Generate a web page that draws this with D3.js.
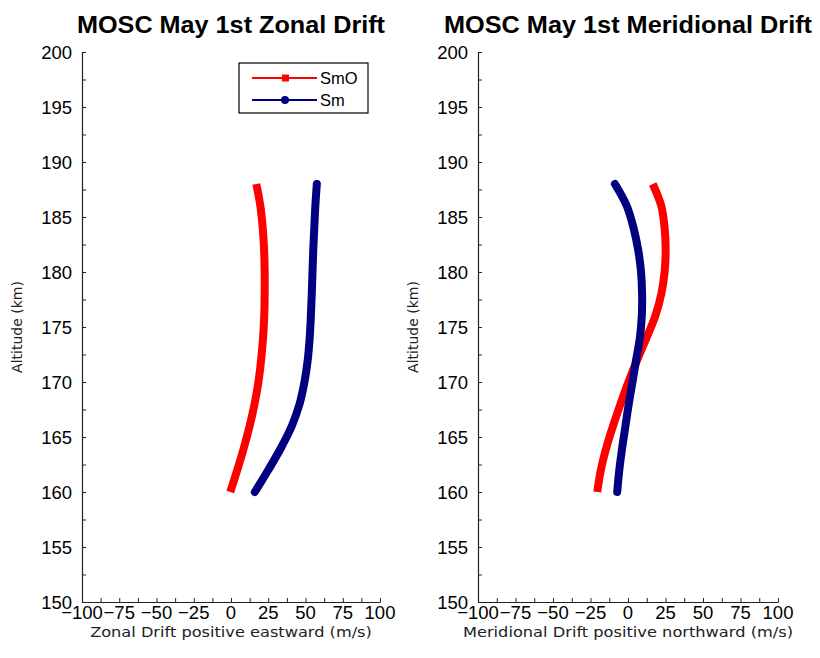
<!DOCTYPE html>
<html>
<head>
<meta charset="utf-8">
<script src="https://cdn.jsdelivr.net/npm/d3@7"></script>
<style>
  html, body { margin: 0; padding: 0; background: #fff; }
  svg { display: block; }
</style>
</head>
<body>
<svg id="chart" width="820" height="658"></svg>
<script>
// Altitude levels (km) shared by all profiles
const altitudes = [160, 162, 164, 166, 168, 170, 172, 174, 176, 178, 180, 182, 184, 186, 188];

// Zonal drift (m/s, positive eastward)
const zonalSmO = [-0.5, 4.2, 8.6, 12.5, 15.8, 18.4, 20.2, 21.5, 22.3, 22.6, 22.6, 22.2, 21.3, 19.7, 17.0];
const zonalSm  = [16.0, 25.0, 33.5, 40.8, 46.0, 49.3, 51.5, 52.8, 53.6, 54.2, 54.7, 55.2, 55.9, 56.6, 57.6];

// Meridional drift (m/s, positive northward)
const meridSmO = [-20.5, -18.1, -14.5, -10.0, -5.0, 0.3, 6.1, 12.3, 18.2, 22.2, 24.4, 25.1, 24.4, 22.2, 16.5];
const meridSm  = [-7.2, -5.8, -3.9, -1.7, 0.5, 3.0, 5.4, 7.9, 9.2, 9.4, 8.7, 6.8, 3.7, -0.8, -8.7];

// Axis ticks
const xTickLabels = [-100, -75, -50, -25, 0, 25, 50, 75, 100];
const yTickLabels = [150, 155, 160, 165, 170, 175, 180, 185, 190, 195, 200];

const seriesNames = ["SmO", "Sm"];
const seriesColors = ["#ff0000", "#000080"];

const panels = [
  { title: "MOSC May 1st Zonal Drift", xlabel: "Zonal Drift positive eastward (m/s)",
    series: [zonalSmO, zonalSm], left: 82, right: 380, titleWidth: 308, legend: true },
  { title: "MOSC May 1st Meridional Drift", xlabel: "Meridional Drift positive northward (m/s)",
    series: [meridSmO, meridSm], left: 478, right: 778, titleWidth: 368, legend: false }
];

const svg = d3.select("#chart");
const plotTop = 52, plotBottom = 602;
const tickFont = "'Liberation Sans', Arial, Helvetica, sans-serif";
const labelFont = "'DejaVu Sans', 'Noto Sans', sans-serif";

const y = d3.scaleLinear().domain([150, 200]).range([plotBottom, plotTop]);

panels.forEach(p => {
  const x = d3.scaleLinear().domain([-100, 100]).range([p.left, p.right]);
  const g = svg.append("g");
  const cx = (p.left + p.right) / 2;

  // Title
  g.append("text")
    .attr("x", cx).attr("y", 33)
    .attr("text-anchor", "middle")
    .attr("font-family", tickFont)
    .attr("font-weight", "bold")
    .attr("font-size", 23)
    .attr("textLength", p.titleWidth)
    .attr("lengthAdjust", "spacingAndGlyphs")
    .attr("fill", "#000")
    .text(p.title);

  // Bottom axis: labelled ticks every 25, minor ticks in between, drawn inward
  const xMinor = d3.range(-100, 100.01, 12.5);
  g.append("g")
    .attr("transform", `translate(0,${plotBottom})`)
    .call(d3.axisBottom(x).tickValues(xMinor).tickSizeInner(-4).tickSizeOuter(0).tickFormat(() => ""))
    .call(a => a.select(".domain").attr("stroke", "#222").attr("stroke-width", 1.2))
    .call(a => a.selectAll(".tick line").attr("stroke", "#222"));

  g.append("g")
    .selectAll("text")
    .data(xTickLabels)
    .join("text")
    .attr("x", d => x(d)).attr("y", 619)
    .attr("text-anchor", "middle")
    .attr("font-family", tickFont)
    .attr("font-size", 18.5)
    .attr("fill", "#000")
    .text(d => d < 0 ? "\u2212" + Math.abs(d) : d);

  // Left axis: labelled ticks every 5 km, minor ticks every 2.5 km
  const yMinor = d3.range(150, 200.01, 2.5);
  g.append("g")
    .attr("transform", `translate(${p.left},0)`)
    .call(d3.axisLeft(y).tickValues(yMinor).tickSizeInner(-4).tickSizeOuter(0).tickFormat(() => ""))
    .call(a => a.select(".domain").attr("stroke", "#222").attr("stroke-width", 1.2))
    .call(a => a.selectAll(".tick line").attr("stroke", "#222"));

  g.append("g")
    .selectAll("text")
    .data(yTickLabels)
    .join("text")
    .attr("x", p.left - 10).attr("y", d => y(d) + 6.5)
    .attr("text-anchor", "end")
    .attr("font-family", tickFont)
    .attr("font-size", 18.5)
    .attr("fill", "#000")
    .text(d => d);

  // Axis titles
  g.append("text")
    .attr("x", cx).attr("y", 637)
    .attr("text-anchor", "middle")
    .attr("font-family", labelFont)
    .attr("font-size", 14)
    .attr("textLength", p.xlabel.length * 8.05)
    .attr("lengthAdjust", "spacingAndGlyphs")
    .attr("fill", "#222")
    .text(p.xlabel);

  g.append("text")
    .attr("transform", `translate(${p.left - 60},${y(175)}) rotate(-90)`)
    .attr("text-anchor", "middle")
    .attr("font-family", labelFont)
    .attr("font-size", 14)
    .attr("fill", "#222")
    .text("Altitude (km)");

  // Drift profiles
  p.series.forEach((vals, i) => {
    const line = d3.line()
      .x((d, k) => x(d))
      .y((d, k) => y(altitudes[k]))
      .curve(d3.curveCatmullRom.alpha(0.5));
    g.append("path")
      .datum(vals)
      .attr("d", line)
      .attr("fill", "none")
      .attr("stroke", seriesColors[i])
      .attr("stroke-width", 8)
      .attr("stroke-linecap", i === 0 ? "butt" : "round")
      .attr("stroke-linejoin", "round");
  });

  // Legend
  if (p.legend) {
    const lg = g.append("g");
    lg.append("rect")
      .attr("x", 239).attr("y", 63).attr("width", 129).attr("height", 50)
      .attr("fill", "#fff").attr("stroke", "#000").attr("stroke-width", 1.2);
    seriesNames.forEach((name, i) => {
      const ly = 78 + i * 22;
      lg.append("line")
        .attr("x1", 252).attr("x2", 317).attr("y1", ly).attr("y2", ly)
        .attr("stroke", seriesColors[i]).attr("stroke-width", 2);
      if (i === 0) {
        lg.append("rect").attr("x", 282).attr("y", ly - 3.5).attr("width", 7).attr("height", 7)
          .attr("fill", seriesColors[i]);
      } else {
        lg.append("circle").attr("cx", 285).attr("cy", ly).attr("r", 4)
          .attr("fill", seriesColors[i]);
      }
      lg.append("text")
        .attr("x", 320).attr("y", ly + 6)
        .attr("font-family", tickFont)
        .attr("font-size", 16.5)
        .attr("fill", "#000")
        .text(name);
    });
  }
});
</script>
</body>
</html>
